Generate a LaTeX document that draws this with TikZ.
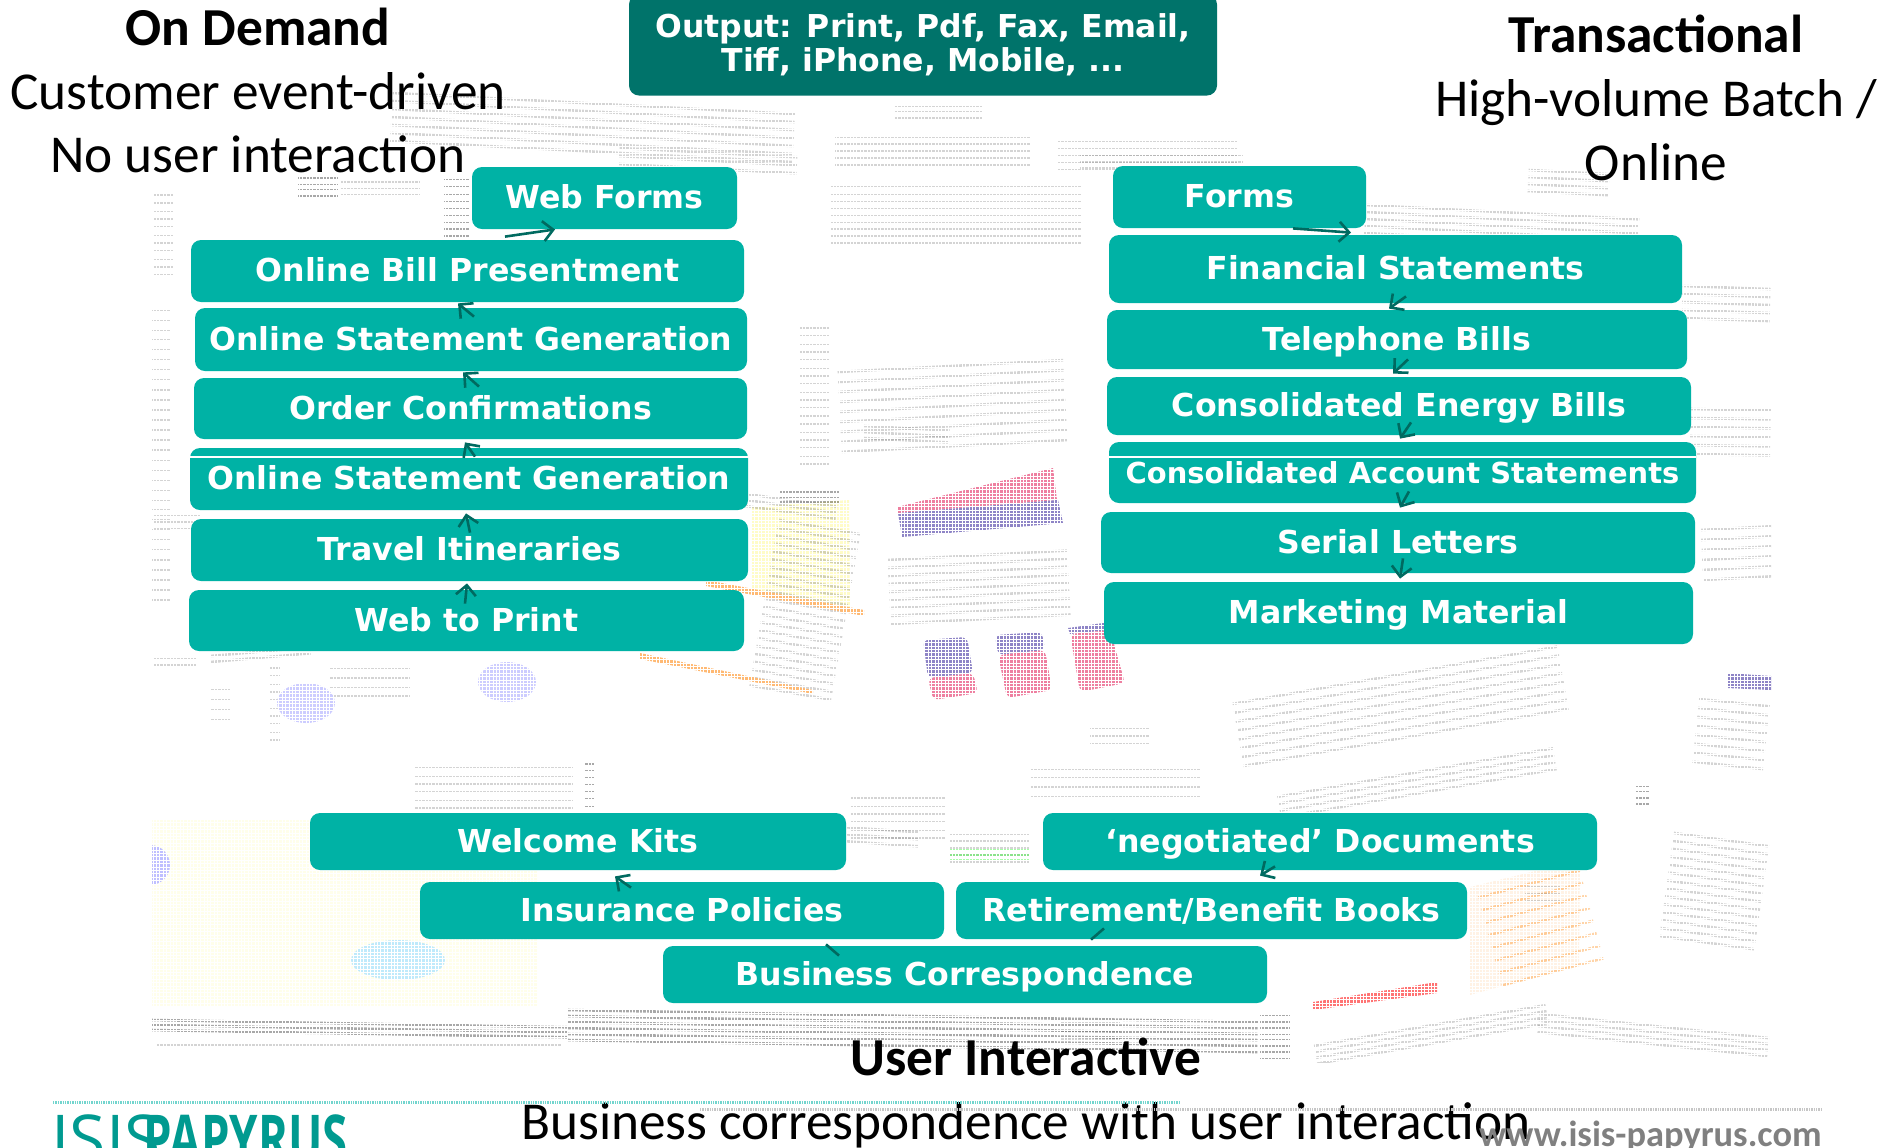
\documentclass[tikz,border=0pt]{standalone}
\usepackage{fontspec}
\setmainfont{Carlito}
\newfontfamily\boxfont{DejaVu Sans}
\newfontfamily\logofont{Open Sans}
\usepackage{tikz}
\usetikzlibrary{arrows.meta}

\definecolor{taskteal}{HTML}{00B2A5}
\definecolor{outteal}{HTML}{00736A}
\definecolor{flowteal}{HTML}{006A60}
\definecolor{logoteal}{HTML}{009A90}
\definecolor{barpink}{HTML}{EE7FA0}
\definecolor{barblue}{HTML}{8E84C6}

\tikzset{
outbox/.style={fill=outteal,rounded corners=5pt,inner sep=0pt,text=white,font=\boxfont\bfseries\fontsize{15.75}{17.2}\selectfont,align=center},
taskbox/.style={outbox,fill=taskteal,font=\boxfont\bfseries\fontsize{15.8}{18}\selectfont,text height=12.3pt,text depth=1.5pt},
headtext/.style={inner sep=0pt,font=\bfseries\fontsize{26.7}{30}\selectfont,text height=18pt,text depth=5.6pt},
bodytext/.style={inner sep=0pt,font=\fontsize{26.65}{30}\selectfont,text height=18pt,text depth=5.6pt},
flow/.style={draw=flowteal,line width=1.3pt,-{Straight Barb[length=5pt,width=10pt]}},
flowplain/.style={draw=flowteal,line width=1.3pt},
docrow/.style={line width=1.3pt,opacity=.34}
}

\begin{document}
\begin{tikzpicture}[x=.5pt,y=-.5pt]
\useasboundingbox (0,0) rectangle (1898,1147);

\begin{scope}
\clip (152,30) rectangle (1771,1062);
\fill[yellow!8] (150,820) -- (538,820) -- (538,1007) -- (150,1007) -- cycle;
\fill[yellow!22] (752,507) -- (849,500) -- (850,607) -- (752,590) -- cycle;
\fill[orange!10] (1470,887) -- (1580,860) -- (1579,965) -- (1470,995) -- cycle;
\foreach \bx/\by/\bw/\bn/\bs/\ba/\bc in {
835/130/196/5/7/0/gray,831/180/251/9/7/0/gray,1057/135/180/5/7/0/gray,
620/140/178/3/8/-3/gray,895/100/88/3/6/0/gray,393/85/403/7/8/-3/gray,
298/172/40/4/6/0/black,340/176/80/3/6/0/gray,153/187/20/11/8/0/gray,444/173/26/9/7/0/black,
1080/150/163/3/6/0/gray,1529/163/81/4/7/-3/gray,1366/198/274/5/7/-3/gray,
1683/278/88/5/8/-2/gray,1690/400/81/6/9/-1/gray,1700/520/71/6/10/3/gray,
837/362/226/9/10/3/gray,887/552/180/9/8/3/gray,780/512/83/22/8/-10/gray,
780/487/60/3/5/0/black,800/320/30/18/8/0/gray,747/488/92/3/6/-8/gray,864/420/86/3/6/-3/gray,
153/510/47/3/6/0/gray,153/653/43/2/6/0/gray,210/650/100/2/6/5/gray,415/620/90/2/6/3/gray,
152/300/18/30/10/0/gray,330/660/80/4/9/0/gray,270/660/10/10/8/0/gray,
415/760/158/6/8/0/gray,584/757/10/7/7/0/black,210/680/20/4/10/0/gray,
700/810/220/3/7/-4/gray,850/790/95/6/8/0/gray,950/827/79/5/7/0/gray,
1231/695/330/8/9/10/gray,1276/790/280/4/7/10/gray,1675/825/96/14/8/-8/gray,
1475/885/105/8/13/15/orange,950/845/79/3/5/0/green,1090/720/60/3/8/0/gray,
1700/690/71/8/9/-6/gray,1030/760/170/4/9/0/gray,1060/1015/60/3/8/0/gray,
1525/880/36/3/7/0/gray,1635/780/14/4/6/0/black,
152/1015/416/3/5/-1/black,568/1004/690/6/6/-1/black,1313/1040/235/4/6/10/gray,1540/1008/231/4/6/-6/gray,
1260/1010/30/9/6/0/black,157/1040/405/1/5/0/gray}{
\foreach \br in {1,...,\bn}
\draw[docrow,draw=\bc,rotate around={\ba:(\bx,\by)}] (\bx,\by+\br*\bs) -- ++(\bw,0);
}
\fill[blue!20] (306,703) ellipse [x radius=29,y radius=20];
\fill[blue!20] (507,682) ellipse [x radius=29,y radius=20];
\fill[cyan!25] (398,960) ellipse [x radius=47,y radius=20];
\fill[blue!25] (150,865) ellipse [x radius=20,y radius=20];
\fill[orange!55] (640,653) -- (813,690) -- (813,694) -- (640,659) -- cycle;
\fill[orange!55] (706,580) -- (864,610) -- (864,616) -- (706,586) -- cycle;
\fill[barpink] (897,507) -- (1053,468) -- (1057,500) -- (898,513) -- cycle;
\fill[barblue] (898,513) -- (1058,500) -- (1063,523) -- (902,537) -- cycle;
\fill[barblue,rounded corners=3pt] (923,640) -- (967,637) -- (973,673) -- (928,678) -- cycle;
\fill[barpink,rounded corners=3pt] (928,678) -- (973,673) -- (978,693) -- (933,700) -- cycle;
\fill[barblue,rounded corners=3pt] (995,635) -- (1042,632) -- (1045,650) -- (998,655) -- cycle;
\fill[barpink,rounded corners=3pt] (998,655) -- (1045,650) -- (1052,690) -- (1007,698) -- cycle;
\fill[barblue] (1068,628) -- (1110,622) -- (1110,630) -- (1070,634) -- cycle;
\fill[barpink,rounded corners=3pt] (1070,634) -- (1110,630) -- (1125,683) -- (1080,692) -- cycle;
\fill[barblue] (1727,673) -- (1771,676) -- (1771,690) -- (1727,688) -- cycle;
\fill[red!55] (1313,1002) -- (1437,982) -- (1437,993) -- (1313,1010) -- cycle;
\draw[white,line width=.45pt,step=1.7pt] (152,1062) grid (1771,30);
\end{scope}

\node[outbox,minimum width=294pt,minimum height=50.5pt] (out) at (923,45) {Output: Print, Pdf, Fax, Email,\\Tiff, iPhone, Mobile, ...};

\node[taskbox,minimum width=132.5pt,minimum height=31pt] (wf) at (604.5,198) {Web Forms};
\node[taskbox,minimum width=276.5pt,minimum height=31pt] (obp) at (467.5,271) {Online Bill Presentment};
\node[taskbox,minimum width=276pt,minimum height=31.5pt] (osg) at (471,339.5) {Online Statement Generation};
\node[taskbox,minimum width=276.5pt,minimum height=30.5pt] (oc) at (470.5,408.5) {Order Confirmations};
\node[taskbox,minimum width=279pt,minimum height=31pt] (osgb) at (469,479) {Online Statement Generation};
\node[taskbox,minimum width=278.5pt,minimum height=31pt] (tr) at (469.5,550) {Travel Itineraries};
\node[taskbox,minimum width=277.5pt,minimum height=30.5pt] (wtp) at (466.5,620.5) {Web to Print};

\node[taskbox,minimum width=126.5pt,minimum height=31pt] (forms) at (1239.5,197) {Forms};
\node[taskbox,minimum width=286.5pt,minimum height=34pt] (fs) at (1395.5,269) {Financial Statements};
\node[taskbox,minimum width=290pt,minimum height=29.5pt] (tb) at (1397,339.5) {Telephone Bills};
\node[taskbox,minimum width=292pt,minimum height=29pt] (ceb) at (1399,406) {Consolidated Energy Bills};
\node[taskbox,minimum width=293.5pt,minimum height=30.5pt,font=\boxfont\bfseries\fontsize{14.46}{18}\selectfont] (cas) at (1402.5,472.5) {Consolidated Account Statements};
\node[taskbox,minimum width=297pt,minimum height=30.5pt] (sl) at (1398,542.5) {Serial Letters};
\node[taskbox,minimum width=294.5pt,minimum height=31pt] (mm) at (1398.5,613) {Marketing Material};

\node[taskbox,minimum width=268pt,minimum height=28.5pt] (wk) at (578,841.5) {Welcome Kits};
\node[taskbox,minimum width=277pt,minimum height=28.5pt] (neg) at (1320,841.5) {‘negotiated’ Documents};
\node[taskbox,minimum width=262pt,minimum height=28.5pt] (ip) at (682,910.5) {Insurance Policies};
\node[taskbox,minimum width=255.5pt,minimum height=28.5pt] (rb) at (1211.5,910.5) {Retirement/Benefit Books};
\node[taskbox,minimum width=302pt,minimum height=28.5pt] (bc) at (965,974.5) {Business Correspondence};

\draw[white,line width=.6pt] (osgb.west |- 0,457) -- (osgb.east |- 0,457);
\draw[white,line width=.6pt] (cas.west |- 0,457) -- (cas.east |- 0,457);

\draw[flow] ([shift={(37.5,-3)}]obp.north) -- ([shift={(-49.5,0)}]wf.south);
\draw[flow] ([shift={(3,9)}]osg.north) -- ([shift={(-9.5,1)}]obp.south);
\draw[flow] ([shift={(8.5,9)}]oc.north) -- ([shift={(-8,1)}]osg.south);
\draw[flow] ([shift={(6,9)}]osgb.north) -- ([shift={(-5.5,3)}]oc.south);
\draw[flow] ([shift={(.5,14)}]tr.north) -- ([shift={(-3,3)}]osgb.south);
\draw[flow] ([shift={(-1.5,14)}]wtp.north) -- ([shift={(-2.5,2)}]tr.south);

\draw[flow] ([shift={(53.5,0)}]forms.south) -- ([shift={(-44.5,-2)}]fs.north);
\draw[flow] ([shift={(10.5,-7)}]fs.south) -- ([shift={(-8,-1)}]tb.north);
\draw[flow] ([shift={(11,-10)}]tb.south) -- ([shift={(-6,-3)}]ceb.north);
\draw[flow] ([shift={(12,-13)}]ceb.south) -- ([shift={(-2.5,-3)}]cas.north);
\draw[flow] ([shift={(6.5,-12)}]cas.south) -- ([shift={(2,-4)}]sl.north);
\draw[flow] ([shift={(5,-15)}]sl.south) -- ([shift={(1.5,-3)}]mm.north);

\draw[flow] ([shift={(-51,6)}]ip.north) -- ([shift={(37,6)}]wk.south);
\draw[flow] ([shift={(-45,-4)}]neg.south) -- ([shift={(48.5,-6)}]rb.north);
\draw[flowplain] ([shift={(-126,10)}]bc.north) -- ([shift={(144,5)}]ip.south);
\draw[flowplain] ([shift={(-107.5,-11)}]rb.south) -- ([shift={(126,-6)}]bc.north);

\node[headtext] (ondemand) at (258,33) {On Demand};
\node[bodytext] (ondemandone) at (258,97) {Customer event-driven};
\node[bodytext] (ondemandtwo) at (258,160) {No user interaction};
\node[headtext] (trans) at (1656,40) {Transactional};
\node[bodytext] (transone) at (1656,104) {High-volume Batch /};
\node[bodytext] (transtwo) at (1656,168) {Online};
\node[headtext] (user) at (1026,1063) {User Interactive};
\node[bodytext] (userone) at (1026,1127) {Business correspondence with user interaction};

\draw[taskteal!55,line width=1.5pt,dash pattern=on .7pt off .5pt] (53,1102) -- (1180,1102);
\draw[gray!45,line width=1.5pt,dash pattern=on .7pt off .5pt] (700,1109) -- (1822,1109);
\node[anchor=base west,inner sep=0pt,text=logoteal,font=\logofont\fontsize{33}{33}\selectfont] (logoisis) at (51,1162) {ISIS};
\node[anchor=base west,inner sep=0pt,text=logoteal,xscale=.69,transform shape,font=\logofont\bfseries\fontsize{33}{33}\selectfont] (logopap) at (143,1162) {PAPYRUS};
\node[anchor=base east,inner sep=0pt,text=gray,font=\bfseries\fontsize{18.2}{19}\selectfont] (web) at (1822,1146) {www.isis-papyrus.com};
\end{tikzpicture}
\end{document}
